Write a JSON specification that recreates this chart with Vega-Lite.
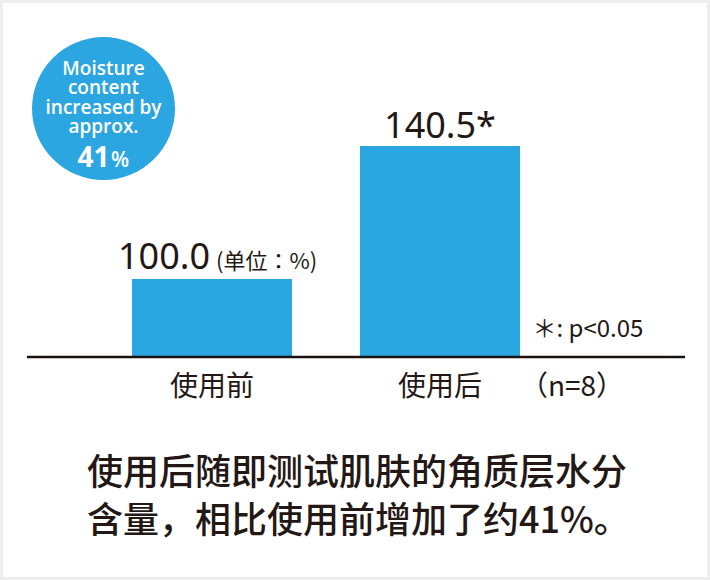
{
  "$schema": "https://vega.github.io/schema/vega-lite/v6.json",
  "width": 710,
  "height": 580,
  "padding": 3,
  "autosize": {"type": "fit", "contains": "padding"},
  "background": "#eeeeee",
  "data": {
    "values": [
      {"stage": "使用前", "value": 100.0, "label": "100.0"},
      {"stage": "使用后", "value": 140.5, "label": "140.5*"}
    ]
  },
  "encoding": {
    "x": {
      "field": "stage",
      "type": "nominal",
      "axis": null,
      "scale": {
        "type": "band",
        "domain": ["使用前", "使用后"],
        "paddingInner": 0.29825,
        "paddingOuter": 0.69298,
        "align": 0.40823,
        "round": false
      }
    }
  },
  "layer": [
    {
      "mark": {"type": "bar", "color": "#2aa7e0"},
      "encoding": {
        "y": {
          "field": "value",
          "type": "quantitative",
          "axis": null,
          "scale": {"domain": [9.25, 184.04], "nice": false, "zero": false}
        },
        "y2": {"datum": 76.55}
      }
    },
    {
      "data": {"values": [{}]},
      "mark": {"type": "rule", "color": "#1a1311", "strokeWidth": 2.4, "xOffset": -185, "x2Offset": 245, "yOffset": 1},
      "encoding": {
        "x": {"datum": "使用前"},
        "x2": {"datum": "使用后"},
        "y": {"datum": 76.55, "type": "quantitative"}
      }
    },
    {
      "transform": [{"filter": "datum.stage == '使用前'"}],
      "mark": {"type": "text", "font": "Noto Sans", "fontSize": 36, "color": "#231815", "align": "right", "baseline": "alphabetic", "dx": -2, "dy": -10},
      "encoding": {
        "y": {"field": "value", "type": "quantitative"},
        "text": {"field": "label"}
      }
    },
    {
      "transform": [{"filter": "datum.stage == '使用后'"}],
      "mark": {"type": "text", "font": "Noto Sans", "fontSize": 36, "color": "#231815", "align": "center", "baseline": "alphabetic", "dy": -8},
      "encoding": {
        "y": {"field": "value", "type": "quantitative"},
        "text": {"field": "label"}
      }
    },
    {
      "data": {"values": [{}]},
      "mark": {"type": "text", "text": "(单位：%)", "font": "Noto Sans CJK JP", "fontSize": 22, "color": "#231815", "align": "left", "baseline": "alphabetic", "dx": 4, "dy": -10},
      "encoding": {"x": {"datum": "使用前"}, "y": {"datum": 100, "type": "quantitative"}}
    },
    {
      "mark": {"type": "text", "font": "Noto Sans CJK SC", "fontSize": 28, "color": "#231815", "align": "center", "baseline": "alphabetic", "dy": 40},
      "encoding": {
        "y": {"datum": 76.55, "type": "quantitative"},
        "text": {"field": "stage"}
      }
    },
    {
      "data": {"values": [{}]},
      "mark": {"type": "text", "text": "（n=8）", "font": "Noto Sans CJK JP", "fontSize": 28, "color": "#231815", "align": "center", "baseline": "alphabetic", "dx": 132, "dy": 40},
      "encoding": {"x": {"datum": "使用后"}, "y": {"datum": 76.55, "type": "quantitative"}}
    },
    {
      "data": {"values": [{}]},
      "mark": {"type": "text", "text": "＊: p<0.05", "font": "Noto Sans CJK JP", "fontSize": 24, "color": "#231815", "align": "left", "baseline": "alphabetic", "dx": 92.5, "dy": -18.5},
      "encoding": {"x": {"datum": "使用后"}, "y": {"datum": 76.55, "type": "quantitative"}}
    },
    {
      "data": {"values": [{}]},
      "mark": {"type": "circle", "size": 20449, "color": "#2ca6e0", "opacity": 1, "strokeWidth": 0, "xOffset": -108.5},
      "encoding": {"x": {"datum": "使用前"}, "y": {"datum": 151.9, "type": "quantitative"}}
    },
    {
      "data": {"values": [{}]},
      "mark": {"type": "text", "text": ["Moisture", "content", "increased by", "approx."], "font": "Open Sans", "fontWeight": 600, "fontSize": 19, "lineHeight": 19.4, "color": "white", "align": "center", "baseline": "alphabetic", "dx": -108.5, "dy": -33.5},
      "encoding": {"x": {"datum": "使用前"}, "y": {"datum": 151.9, "type": "quantitative"}}
    },
    {
      "data": {"values": [{}]},
      "mark": {"type": "text", "text": "41", "font": "Open Sans", "fontWeight": "bold", "fontSize": 28, "color": "white", "align": "right", "baseline": "alphabetic", "dx": -102.5, "dy": 58.5},
      "encoding": {"x": {"datum": "使用前"}, "y": {"datum": 151.9, "type": "quantitative"}}
    },
    {
      "data": {"values": [{}]},
      "mark": {"type": "text", "text": "%", "font": "Open Sans", "fontWeight": 600, "fontSize": 21, "color": "white", "align": "left", "baseline": "alphabetic", "dx": -101, "dy": 58.5},
      "encoding": {"x": {"datum": "使用前"}, "y": {"datum": 151.9, "type": "quantitative"}}
    },
    {
      "data": {"values": [{}]},
      "mark": {"type": "text", "text": ["使用后随即测试肌肤的角质层水分", "含量，相比使用前增加了约41%。"], "font": "Noto Sans CJK SC", "fontWeight": 500, "fontSize": 36, "lineHeight": 48, "color": "#231815", "align": "left", "baseline": "alphabetic", "dx": -125, "dy": 129.5},
      "encoding": {"x": {"datum": "使用前"}, "y": {"datum": 76.55, "type": "quantitative"}}
    }
  ],
  "config": {
    "view": {"fill": "white", "stroke": null}
  }
}
